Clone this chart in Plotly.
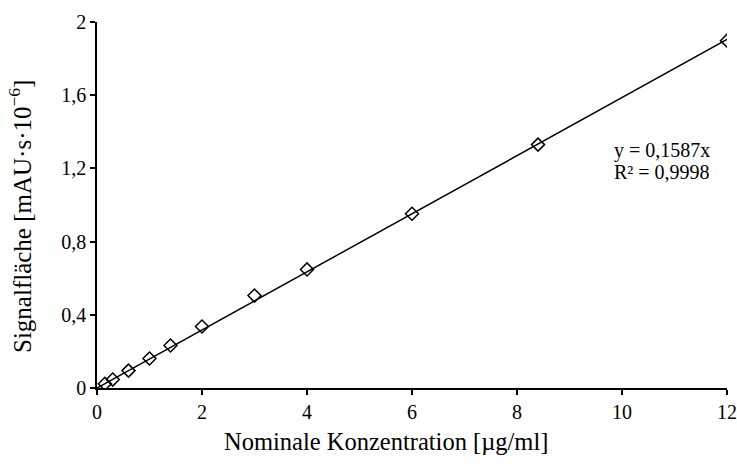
import plotly.graph_objects as go

conc = [0.15, 0.3, 0.6, 1.0, 1.4, 2.0, 3.0, 4.0, 6.0, 8.4, 12.0]
area = [0.023, 0.046, 0.095, 0.161, 0.232, 0.336, 0.505, 0.648, 0.952, 1.33, 1.898]
slope = 0.1587
fit_x = [0, 12]
fit_y = [slope * v for v in fit_x]
x_ticks = [0, 2, 4, 6, 8, 10, 12]
y_ticks = [0, 0.4, 0.8, 1.2, 1.6, 2]

font = "Liberation Serif, Times New Roman, serif"

W, H = 737, 464
L, R, T, B = 97, 10, 22, 76
pw, ph = W - L - R, H - T - B

fig = go.Figure()
fig.add_trace(go.Scatter(x=fit_x, y=fit_y, mode="lines",
                         line=dict(color="black", width=1.5), showlegend=False))
fig.add_trace(go.Scatter(x=conc, y=area, mode="markers",
                         marker=dict(symbol="diamond-open", size=10,
                                     color="black", line=dict(width=1.5, color="black")),
                         showlegend=False))

def px_x(p):
    return (p - L) / pw

def px_y(p):
    return (H - B - p) / ph

fig.add_annotation(x=px_x(612), y=px_y(151), xref="paper", yref="paper",
                   text="y = 0,1587x", showarrow=False,
                   xanchor="left", yanchor="middle",
                   font=dict(family=font, size=20, color="black"))
fig.add_annotation(x=px_x(612), y=px_y(172), xref="paper", yref="paper",
                   text="R² = 0,9998", showarrow=False,
                   xanchor="left", yanchor="middle",
                   font=dict(family=font, size=20, color="black"))
# axis titles
fig.add_annotation(x=px_x(386), y=px_y(441), xref="paper", yref="paper",
                   text="Nominale Konzentration [µg/ml]", showarrow=False,
                   xanchor="center", yanchor="middle",
                   font=dict(family=font, size=24.5, color="black"))
fig.add_annotation(x=px_x(20), y=px_y(217), xref="paper", yref="paper",
                   text="Signalfläche [mAU·s·10<sup>−6</sup>]", showarrow=False,
                   textangle=-90, xanchor="center", yanchor="middle",
                   font=dict(family=font, size=25, color="black"))

axis_common = dict(showgrid=False, zeroline=False, showline=True, linecolor="black",
                   linewidth=1.5, ticks="outside", ticklen=5, tickwidth=1.5,
                   tickcolor="black", tickfont=dict(family=font, size=20, color="black"))

fig.update_layout(
    width=W, height=H,
    margin=dict(l=L, r=R, t=T, b=B, autoexpand=False),
    paper_bgcolor="white", plot_bgcolor="white",
    separators=", ",
    xaxis=dict(range=[0, 12], tickvals=x_ticks, **axis_common),
    yaxis=dict(range=[0, 2], tickvals=y_ticks, **axis_common),
)
fig.write_html("out.html", config={"displayModeBar": False},
               post_script="document.body.style.margin='0px';")
